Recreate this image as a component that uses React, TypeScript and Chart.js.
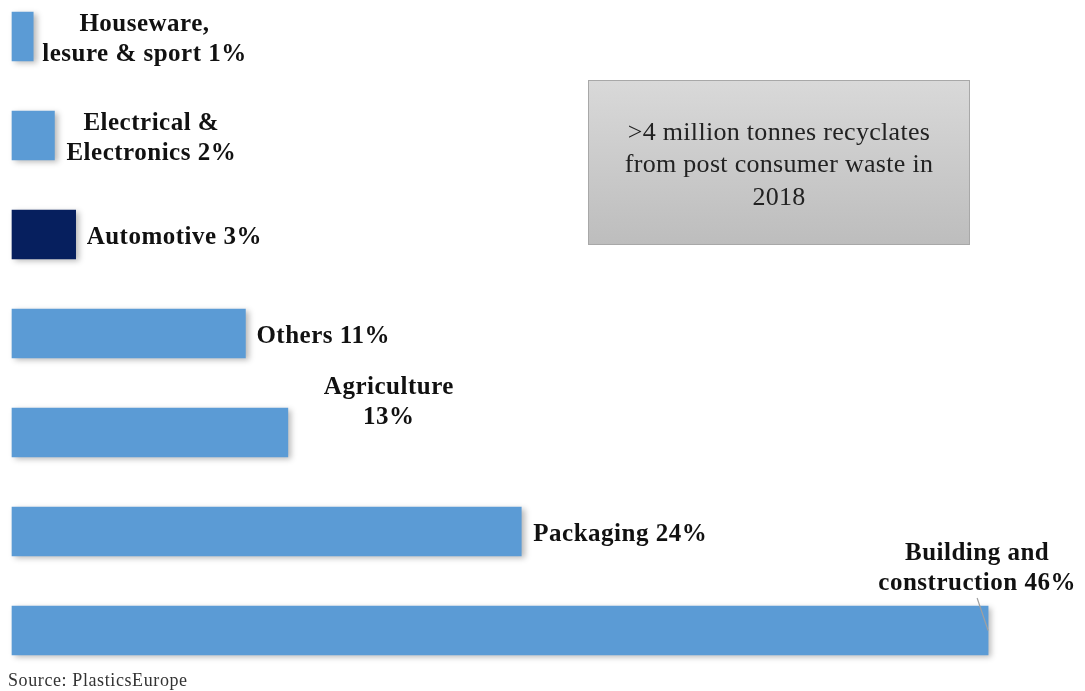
import React, { useEffect, useRef } from "react";
import { Chart, registerables } from "chart.js";

Chart.register(...registerables);

const categories = [
  "Houseware, lesure & sport",
  "Electrical & Electronics",
  "Automotive",
  "Others",
  "Agriculture",
  "Packaging",
  "Building and construction",
];
const shares = [1, 2, 3, 11, 13, 24, 46];
const labelLines = [
  ["Houseware,", "lesure & sport 1%"],
  ["Electrical &", "Electronics 2%"],
  ["Automotive 3%"],
  ["Others 11%"],
  ["Agriculture", "13%"],
  ["Packaging 24%"],
  ["Building and", "construction 46%"],
];
const noteLines = [">4 million tonnes recyclates", "from post consumer waste in", "2018"];
const sourceText = "Source: PlasticsEurope";

const BLUE = "#5b9bd5";
const NAVY = "#061f5e";
const barColors = [BLUE, BLUE, NAVY, BLUE, BLUE, BLUE, BLUE];

// label placement: "right" = block starts after bar end; otherwise offset of block centre from bar end/centre
const labelPlacement: any[] = [
  { mode: "right", gap: 9 },
  { mode: "right", gap: 12 },
  { mode: "right", gap: 11 },
  { mode: "right", gap: 11 },
  { mode: "offset", dx: 101, dy: -33 },
  { mode: "right", gap: 12 },
  { mode: "offset", dx: -11, dy: -64.5, leader: true },
];

const LABEL_FONT = "bold 25px 'Liberation Serif', serif";
const LINE_H = 30;
const TEXT_DY = 3;

const decorPlugin = {
  id: "decor",
  beforeDatasetsDraw(chart: any) {
    const ctx = chart.ctx;
    ctx.save();
    ctx.shadowColor = "rgba(0,0,0,0.28)";
    ctx.shadowBlur = 6;
    ctx.shadowOffsetX = 3;
    ctx.shadowOffsetY = 2;
  },
  afterDatasetsDraw(chart: any) {
    const ctx = chart.ctx;
    ctx.restore();
    const meta = chart.getDatasetMeta(0);
    ctx.save();
    ctx.fillStyle = "#111";
    ctx.font = LABEL_FONT;
    (ctx as any).letterSpacing = "0.5px";
    ctx.textBaseline = "middle";
    ctx.textAlign = "center";
    meta.data.forEach((bar: any, i: number) => {
      const lines = labelLines[i];
      const p = labelPlacement[i];
      const w = Math.max(...lines.map((l) => ctx.measureText(l).width));
      let cx: number, cy: number;
      if (p.mode === "right") {
        cx = bar.x + p.gap + w / 2;
        cy = bar.y;
      } else {
        cx = bar.x + p.dx;
        cy = bar.y + p.dy;
      }
      const top = cy - ((lines.length - 1) * LINE_H) / 2 + TEXT_DY;
      lines.forEach((l, k) => ctx.fillText(l, cx, top + k * LINE_H));
      if (p.leader) {
        ctx.strokeStyle = "#a0a0a0";
        ctx.lineWidth = 1.2;
        ctx.beginPath();
        ctx.moveTo(cx, cy + 32);
        ctx.lineTo(bar.x, bar.y);
        ctx.stroke();
      }
    });
    ctx.restore();

    // note box
    ctx.save();
    const bx = 588, by = 80, bw = 382, bh = 165;
    const g = ctx.createLinearGradient(0, by, 0, by + bh);
    g.addColorStop(0, "#d9d9d9");
    g.addColorStop(1, "#bdbdbd");
    ctx.fillStyle = g;
    ctx.fillRect(bx, by, bw, bh);
    ctx.strokeStyle = "#a8a8a8";
    ctx.lineWidth = 1;
    ctx.strokeRect(bx + 0.5, by + 0.5, bw - 1, bh - 1);
    ctx.fillStyle = "#222";
    ctx.font = "26px 'Liberation Serif', serif";
    (ctx as any).letterSpacing = "0.3px";
    ctx.textAlign = "center";
    ctx.textBaseline = "middle";
    noteLines.forEach((l, k) => ctx.fillText(l, bx + bw / 2, 133 + k * 32.5));
    ctx.restore();

    // source
    ctx.save();
    ctx.fillStyle = "#333";
    ctx.font = "18px 'Liberation Serif', serif";
    (ctx as any).letterSpacing = "0.6px";
    ctx.textAlign = "left";
    ctx.textBaseline = "middle";
    ctx.fillText(sourceText, 8, 681);
    ctx.restore();
  },
};

export default function App() {
  const ref = useRef<HTMLCanvasElement>(null);
  useEffect(() => {
    document.body.style.margin = "0";
    const chart = new Chart(ref.current!, {
      type: "bar",
      data: {
        labels: categories,
        datasets: [
          {
            data: shares,
            backgroundColor: barColors,
            barThickness: 49,
            clip: false as any,
          },
        ],
      },
      options: {
        indexAxis: "y",
        animation: false,
        responsive: false,
        maintainAspectRatio: false,
        layout: { padding: { left: 12, right: 12, top: 36.5, bottom: 60.5 } },
        plugins: { legend: { display: false }, tooltip: { enabled: false } },
        scales: {
          x: { display: false, min: 0, max: 50 },
          y: { display: false, offset: false },
        },
      },
      plugins: [decorPlugin],
    });
    return () => chart.destroy();
  }, []);
  return (
    <div style={{ position: "fixed", left: 0, top: 0, width: 1085, height: 691, background: "#fff" }}>
      <canvas ref={ref} width={1085} height={691} />
    </div>
  );
}
